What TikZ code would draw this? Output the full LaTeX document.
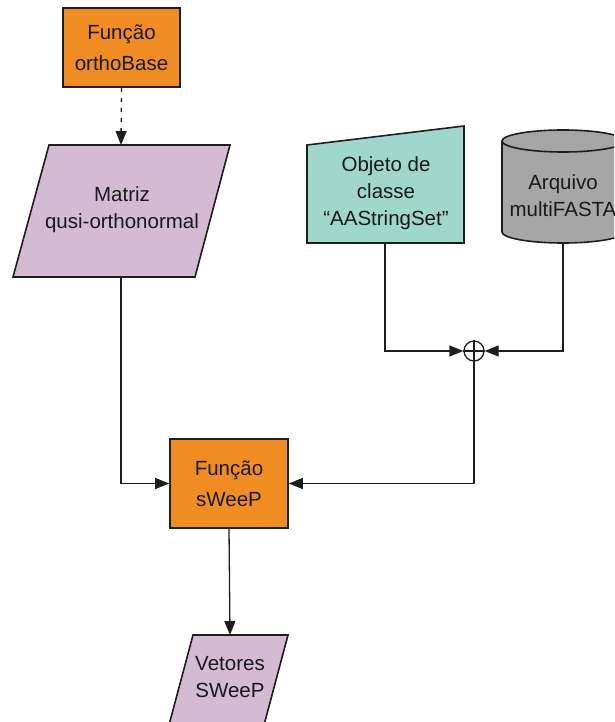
\documentclass[tikz,border=0pt]{standalone}
\usepackage{fontspec}
\setmainfont{Liberation Sans}
\usetikzlibrary{arrows.meta}
\definecolor{orangebox}{RGB}{239,141,35}
\definecolor{lilac}{RGB}{212,187,211}
\definecolor{tealbox}{RGB}{159,216,203}
\definecolor{graycyl}{RGB}{166,166,166}
\definecolor{edge}{RGB}{30,30,30}
\tikzset{
  shapeline/.style={draw=edge, line width=1.6pt, line join=miter},
  conn/.style={draw=edge, line width=1.3pt, -{Triangle[length=14pt,width=11pt]}},
  lbl/.style={font=\fontsize{20.5}{27}\selectfont, align=center, text=black!90},
  funcbox/.style={shapeline, fill=orangebox, font=\fontsize{20.5}{31}\selectfont, align=center, text=black!90},
}
\begin{document}
\begin{tikzpicture}[x=1pt,y=-1pt]
\useasboundingbox (0,0) rectangle (614,722);
\clip (0,0) rectangle (614,722);
% orthoBase
\node[funcbox, minimum width=117pt, minimum height=79pt] (ortho) at (121.5,47.5) {Função\\orthoBase};
% Matriz parallelogram
\filldraw[shapeline, fill=lilac] (49,145) -- (230,145) -- (195,277) -- (13,277) -- cycle;
\node[lbl] (matriz) at (122,210) {Matriz\\qusi-orthonormal};
\coordinate (matrizTop) at (121,145);
\coordinate (matrizBot) at (121,277);
% Objeto trapezoid
\filldraw[shapeline, fill=tealbox] (307,145) -- (464,126) -- (464,243) -- (307,243) -- cycle;
\node[lbl] (objeto) at (386,193) {Objeto de\\classe\\“AAStringSet”};
\coordinate (objetoBot) at (385,243);
% Cylinder
\filldraw[shapeline, fill=graycyl] (502,141) -- (502,232) arc[start angle=180, end angle=0, x radius=61, y radius=11] -- (624,141) arc[start angle=0, end angle=-180, x radius=61, y radius=11] -- cycle;
\draw[shapeline] (502,141) arc[start angle=180, end angle=0, x radius=61, y radius=11];
\node[lbl] (arquivo) at (563,196) {Arquivo\\multiFASTA};
\coordinate (arqBot) at (563,243);
% Sum junction
\node[circle, draw=edge, line width=1.3pt, minimum size=20pt, inner sep=0pt] (sum) at (474,351) {};
\draw[edge, line width=1.1pt] (sum.north) -- (sum.south) (sum.west) -- (sum.east);
% sWeeP
\node[funcbox, minimum width=118pt, minimum height=89pt] (sweep) at (229,483.5) {Função\\sWeeP};
% Vetores
\filldraw[shapeline, fill=lilac] (193,635) -- (288,635) -- (264,725) -- (169,725) -- cycle;
\node[lbl] (vetores) at (230,677) {Vetores\\SWeeP};
\coordinate (vetTop) at (230,635);
% connectors
\draw[conn, dashed, dash pattern=on 4pt off 6pt] (ortho.south) -- (matrizTop);
\draw[conn] (matrizBot) |- (sweep.west);
\draw[conn] (objetoBot) |- (sum.west);
\draw[conn] (arqBot) |- (sum.east);
\draw[conn] (sum.south) |- (sweep.east);
\draw[conn] (sweep.south) -- (vetTop);
\end{tikzpicture}
\end{document}
